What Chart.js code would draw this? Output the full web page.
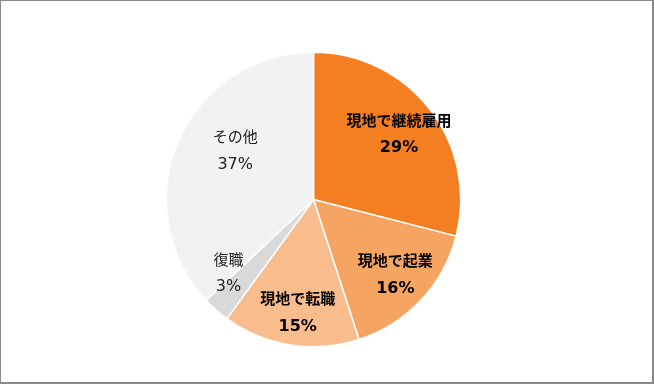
<!DOCTYPE html>
<html>
<head>
<meta charset="utf-8">
<script src="https://cdn.jsdelivr.net/npm/chart.js@4"></script>
<style>
  html, body { margin: 0; padding: 0; background: #fff; }
  #wrap { position: relative; width: 654px; height: 384px; box-sizing: border-box;
          border-top: 1px solid #8a8a8a; border-left: 1px solid #8a8a8a;
          border-right: 2px solid #8a8a8a; border-bottom: 2px solid #8a8a8a; }
</style>
</head>
<body>
<div id="wrap"><canvas id="c" width="651" height="381"></canvas></div>
<script>
// Outcome categories and their shares (%)
const categories = ['現地で継続雇用', '現地で起業', '現地で転職', '復職', 'その他'];
const shares = [29, 16, 15, 3, 37];

// Slice fills and label styling
const sliceColors = ['#F47F22', '#F6A462', '#F9BC8C', '#D9D9D9', '#F2F2F2'];
const labelBold = [true, true, true, false, false];
// radial fraction and angle nudge (degrees) for each label
const labelRadius = [0.735, 0.75, 0.77, 0.76, 0.63];
const labelAngleNudge = [0, -1, -1, 8, 9];

const sliceLabels = {
  id: 'sliceLabels',
  afterDatasetsDraw(chart) {
    const ctx = chart.ctx;
    const meta = chart.getDatasetMeta(0);
    meta.data.forEach((arc, i) => {
      const p = arc.getProps(['x', 'y', 'startAngle', 'endAngle', 'outerRadius'], true);
      const mid = (p.startAngle + p.endAngle) / 2 + labelAngleNudge[i] * Math.PI / 180;
      const r = p.outerRadius * labelRadius[i];
      const cx = p.x + Math.cos(mid) * r;
      const cy = p.y + Math.sin(mid) * r;
      const weight = labelBold[i] ? 'bold ' : '';
      ctx.save();
      ctx.textAlign = 'center';
      ctx.textBaseline = 'middle';
      ctx.fillStyle = labelBold[i] ? '#000' : '#222';
      ctx.font = weight + '15px "Noto Sans CJK JP", sans-serif';
      ctx.fillText(categories[i], cx, cy - 13);
      ctx.font = weight + '16px "DejaVu Sans", "Noto Sans CJK JP", sans-serif';
      ctx.fillText(shares[i] + '%', cx, cy + 15);
      ctx.restore();
    });
  }
};

new Chart(document.getElementById('c'), {
  type: 'pie',
  data: {
    labels: categories,
    datasets: [{
      data: shares,
      backgroundColor: sliceColors,
      borderColor: '#ffffff',
      borderWidth: 1.5,
      hoverOffset: 0
    }]
  },
  options: {
    responsive: false,
    animation: false,
    events: [],
    layout: { padding: { top: 50, bottom: 34, left: 164.5, right: 190.5 } },
    plugins: { legend: { display: false }, tooltip: { enabled: false } }
  },
  plugins: [sliceLabels]
});
</script>
</body>
</html>
